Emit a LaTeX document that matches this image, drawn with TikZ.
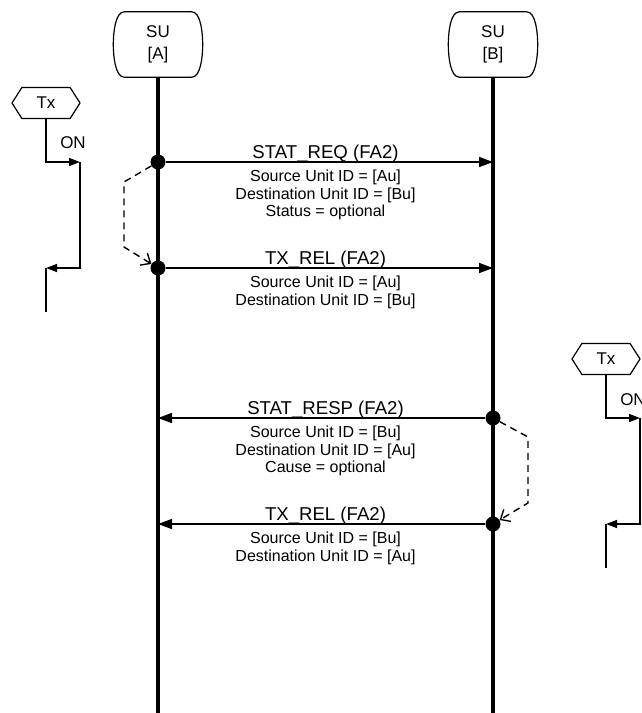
\documentclass[tikz,border=0pt]{standalone}
\usepackage{fontspec}
\setmainfont{Liberation Sans}
\usetikzlibrary{arrows.meta,shapes.symbols}

\tikzset{sqbox/.style={rectangle,minimum width=89pt,minimum height=65pt,inner sep=0pt,align=center,
           font=\fontsize{17}{22}\selectfont},
         sqedge/.style={line width=1.2pt},
         sqlife/.style={line width=3.5pt},
         sqdot/.style={circle,fill,inner sep=0pt,minimum size=15pt},
         sqmsg/.style={line width=1.6pt,-{Triangle[length=14pt,width=10pt]}},
         sqloop/.style={line width=1.4pt,dash pattern=on 7pt off 5pt,-{Straight Barb[length=8pt,width=14pt]}},
         sqtitle/.style={anchor=base,inner sep=0pt,font=\fontsize{18.6}{22}\selectfont},
         sqpar/.style={anchor=north,inner sep=0pt,align=center,font=\fontsize{16}{17.5}\selectfont},
         sqtimer/.style={signal,signal to=west and east,signal pointer angle=115,draw,line width=1.2pt,
           minimum width=68pt,minimum height=31pt,inner sep=0pt,font=\fontsize{17}{20}\selectfont},
         sqon/.style={font=\fontsize{17}{20}\selectfont,inner sep=0pt},
         sqtim/.style={line width=1.5pt},
         sqtarr/.style={sqtim,-{Triangle[length=11pt,width=8pt]}}}

\begin{document}
\begin{tikzpicture}[x=1pt,y=-1pt]
    \useasboundingbox (0,0) rectangle (642,713);
    \node[sqbox] (suA) at (158,44.5) {SU\\{[A]}};
    \node[sqbox] (suB) at (493,44.5) {SU\\{[B]}};
    \foreach \u in {suA,suB}
      \draw[sqedge] ([xshift=11pt]\u.north west) -- ([xshift=-11pt]\u.north east)
        .. controls ([xshift=-2pt]\u.north east) and ([yshift=12pt]\u.east) .. (\u.east)
        .. controls ([yshift=-12pt]\u.east) and ([xshift=-2pt]\u.south east) .. ([xshift=-11pt]\u.south east)
        -- ([xshift=11pt]\u.south west)
        .. controls ([xshift=2pt]\u.south west) and ([yshift=-12pt]\u.west) .. (\u.west)
        .. controls ([yshift=12pt]\u.west) and ([xshift=2pt]\u.north west) .. cycle;
    \coordinate (endA) at (158,713); \coordinate (endB) at (493,713);
    \draw[sqlife] (suA) -- (endA); \draw[sqlife] (suB) -- (endB);
    \foreach \y/\xs/\xr/\n/\t/\s in {
      162/158/493/rq/{STAT\_REQ (FA2)}/{Source Unit ID = [Au]\\Destination Unit ID = [Bu]\\Status = optional},
      268/158/493/ra/{TX\_REL (FA2)}/{Source Unit ID = [Au]\\Destination Unit ID = [Bu]},
      418/493/158/rs/{STAT\_RESP (FA2)}/{Source Unit ID = [Bu]\\Destination Unit ID = [Au]\\Cause = optional},
      524/493/158/rb/{TX\_REL (FA2)}/{Source Unit ID = [Bu]\\Destination Unit ID = [Au]}}
      {\node[sqdot] (\n) at (\xs,\y) {}; \coordinate (\n end) at (\xr,\y);
       \draw[sqmsg] (\n) -- (\n end);
       \node[sqtitle] (\n lab) at (325.5,\y-4) {\t};
       \node[sqpar] (\n par) at (325.5,\y+8) {\s};}
    \coordinate (lpA1) at (124,182); \coordinate (lpA2) at (124,247);
    \draw[sqloop] (rq) -- (lpA1) -- (lpA2) -- (ra);
    \coordinate (lpB1) at (528,437); \coordinate (lpB2) at (528,503);
    \draw[sqloop] (rs) -- (lpB1) -- (lpB2) -- (rb);
    \node[sqtimer] (txA) at (46,103) {Tx};
    \node[sqon] (onA) at (73,143) {ON};
    \coordinate (tA1) at (80,162); \coordinate (tA2) at (80,268);
    \coordinate (tA3) at (46,268); \coordinate (tA4) at (46,312);
    \draw[sqtarr] (txA) |- (tA1); \draw[sqtarr] (tA1) -- (tA2) -- (tA3); \draw[sqtim] (tA3) -- (tA4);
    \node[sqtimer] (txB) at (606,359) {Tx};
    \node[sqon] (onB) at (633,400) {ON};
    \coordinate (tB1) at (640,418); \coordinate (tB2) at (640,524);
    \coordinate (tB3) at (606,524); \coordinate (tB4) at (606,568);
    \draw[sqtarr] (txB) |- (tB1); \draw[sqtarr] (tB1) -- (tB2) -- (tB3); \draw[sqtim] (tB3) -- (tB4);
  \end{tikzpicture}
\end{document}
